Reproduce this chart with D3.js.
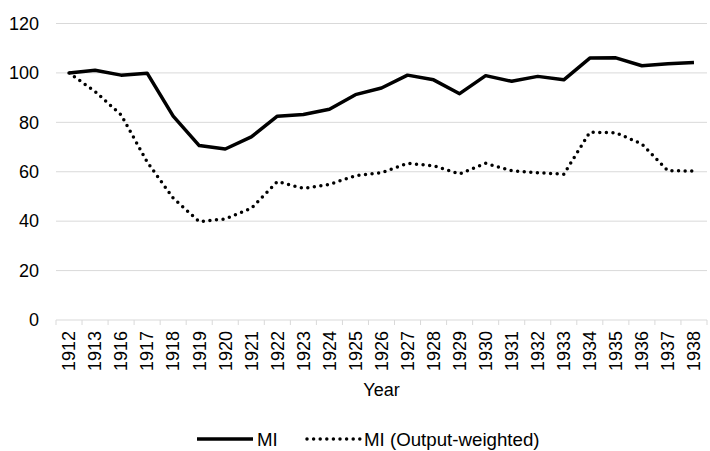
<!DOCTYPE html>
<html>
<head>
<meta charset="utf-8">
<script src="https://cdn.jsdelivr.net/npm/d3@7"></script>
<style>
  body { margin: 0; background: #fff; }
  svg { display: block; font-family: "Liberation Sans", Arial, sans-serif; }
</style>
</head>
<body>
<div id="chart"></div>
<script>
const years = ["1912", "1913", "1916", "1917", "1918", "1919", "1920", "1921", "1922", "1923",
  "1924", "1925", "1926", "1927", "1928", "1929", "1930", "1931", "1932", "1933",
  "1934", "1935", "1936", "1937", "1938"];

const mi = [100, 101.1, 99.1, 99.9, 82.5, 70.6, 69.2, 74.1, 82.5, 83.2,
  85.3, 91.2, 93.9, 99.1, 97.2, 91.6, 98.9, 96.6, 98.6, 97.2,
  106, 106.1, 102.9, 103.7, 104.2];

const miOutput = [100, 92.5, 83, 64, 49.3, 39.8, 40.9, 45.2, 56, 53.3,
  54.9, 58.4, 59.6, 63.4, 62.4, 59.1, 63.4, 60.4, 59.6, 59,
  76, 75.8, 71.2, 60.4, 60.3];

const yTicks = [0, 20, 40, 60, 80, 100, 120];

const seriesNames = ["MI", "MI (Output-weighted)"];

const width = 710, height = 451;
const margin = { left: 56, right: 3, top: 23.5, bottom: 131 };

const svg = d3.select("#chart").append("svg")
  .attr("width", width)
  .attr("height", height);

const x = d3.scaleBand()
  .domain(years)
  .range([margin.left, width - margin.right]);

const y = d3.scaleLinear()
  .domain([0, 120])
  .range([height - margin.bottom, margin.top]);

// gridlines
svg.append("g")
  .selectAll("line")
  .data(yTicks.filter(d => d > 0))
  .enter().append("line")
  .attr("x1", margin.left)
  .attr("x2", width - margin.right)
  .attr("y1", d => y(d))
  .attr("y2", d => y(d))
  .attr("stroke", "#d9d9d9")
  .attr("stroke-width", 1);

// y labels
svg.append("g")
  .selectAll("text")
  .data(yTicks)
  .enter().append("text")
  .attr("x", 39)
  .attr("y", d => y(d))
  .attr("dy", "0.35em")
  .attr("text-anchor", "end")
  .attr("font-size", "18px")
  .attr("fill", "#000")
  .text(d => d);

// x axis
const xAxis = svg.append("g")
  .attr("transform", `translate(0,${y(0)})`);

xAxis.append("line")
  .attr("x1", margin.left)
  .attr("x2", width - margin.right)
  .attr("stroke", "#d9d9d9");

const bounds = years.map(d => x(d)).concat([x(years[years.length - 1]) + x.bandwidth()]);
xAxis.selectAll("line.tick")
  .data(bounds)
  .enter().append("line")
  .attr("class", "tick")
  .attr("x1", d => d)
  .attr("x2", d => d)
  .attr("y1", 0)
  .attr("y2", 5)
  .attr("stroke", "#d9d9d9");

xAxis.selectAll("text")
  .data(years)
  .enter().append("text")
  .attr("transform", d => `translate(${x(d) + x.bandwidth() / 2},11) rotate(-90)`)
  .attr("text-anchor", "end")
  .attr("dy", "0.35em")
  .attr("font-size", "18px")
  .attr("fill", "#000")
  .text(d => d);

svg.append("text")
  .attr("x", (margin.left + width - margin.right) / 2)
  .attr("y", 396)
  .attr("text-anchor", "middle")
  .attr("font-size", "18px")
  .attr("fill", "#000")
  .text("Year");

// lines
const line = d3.line()
  .x((d, i) => x(years[i]) + x.bandwidth() / 2)
  .y(d => y(d));

svg.append("path")
  .datum(miOutput)
  .attr("d", line)
  .attr("fill", "none")
  .attr("stroke", "#000")
  .attr("stroke-width", 3.5)
  .attr("stroke-linecap", "round")
  .attr("stroke-dasharray", "0,6.6");

svg.append("path")
  .datum(mi)
  .attr("d", line)
  .attr("fill", "none")
  .attr("stroke", "#000")
  .attr("stroke-width", 3.5)
  .attr("stroke-linejoin", "round");

// legend
const legend = svg.append("g").attr("transform", "translate(0,439)");
const legendItems = [
  { name: seriesNames[0], x1: 197, x2: 253, dash: null },
  { name: seriesNames[1], x1: 307, x2: 360, dash: "0,6.6" }
];
legendItems.forEach(item => {
  legend.append("line")
    .attr("x1", item.x1)
    .attr("x2", item.x2)
    .attr("stroke", "#000")
    .attr("stroke-width", 3.5)
    .attr("stroke-linecap", item.dash ? "round" : "butt")
    .attr("stroke-dasharray", item.dash);
  legend.append("text")
    .attr("x", item.x2 + 4)
    .attr("dy", "0.35em")
    .attr("font-size", "18.7px")
    .attr("fill", "#000")
    .text(item.name);
});
</script>
</body>
</html>
